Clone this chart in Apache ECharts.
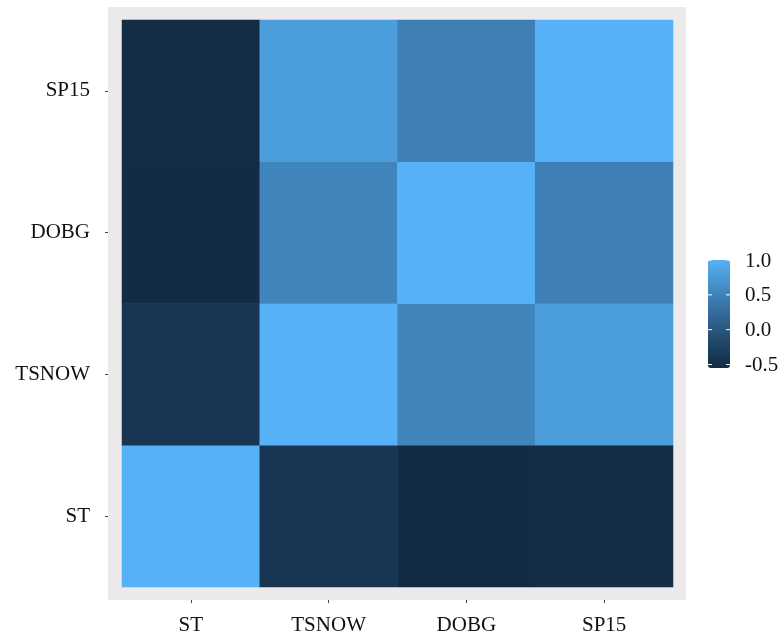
<!DOCTYPE html>
<html>
<head>
<meta charset="utf-8">
<script src="https://cdn.jsdelivr.net/npm/echarts@6/dist/echarts.min.js"></script>
<style>html,body{margin:0;padding:0;background:#fff;}#c{width:782px;height:639px;}</style>
</head>
<body>
<div id="c"></div>
<script>
// categories (x left->right, y bottom->top)
var categories = ['ST', 'TSNOW', 'DOBG', 'SP15'];
// correlation rows (row variable on y axis, values per x category)
var rowST    = [1.00, -0.42, -0.55, -0.53];
var rowTSNOW = [-0.42, 1.00, 0.52, 0.78];
var rowDOBG  = [-0.55, 0.52, 1.00, 0.47];
var rowSP15  = [-0.53, 0.78, 0.47, 1.00];
var rows = [rowST, rowTSNOW, rowDOBG, rowSP15];
// legend
var scaleMin = -0.55, scaleMax = 1.0;
var legendTicks = [-0.5, 0.0, 0.5, 1.0];
var legendLabels = ['-0.5', '0.0', '0.5', '1.0'];
var gradient = ['#132B43', '#22496C', '#336A9A', '#448DC6', '#56B1F7'];

var data = [];
rows.forEach(function (r, yi) {
  r.forEach(function (v, xi) { data.push([xi, yi, v]); });
});

var font = 'Liberation Serif';
var barLeft = 708, barTop = 260, barW = 22, barH = 108;
var graphics = [];
legendTicks.forEach(function (v, i) {
  var y = barTop + (scaleMax - v) / (scaleMax - scaleMin) * barH;
  graphics.push({ type: 'line', z: 100, shape: { x1: barLeft, y1: y, x2: barLeft + 4, y2: y }, style: { stroke: '#fff', lineWidth: 1 } });
  graphics.push({ type: 'line', z: 100, shape: { x1: barLeft + barW - 4, y1: y, x2: barLeft + barW, y2: y }, style: { stroke: '#fff', lineWidth: 1 } });
  graphics.push({ type: 'text', z: 100, x: 745, y: y + 1, style: { text: legendLabels[i], font: '21px "' + font + '"', fill: '#111', textVerticalAlign: 'middle', verticalAlign: 'middle' } });
});

var chart = echarts.init(document.getElementById('c'), null, { renderer: 'canvas' });
chart.setOption({
  animation: false,
  backgroundColor: '#fff',
  graphic: graphics,
  grid: [
    { left: 108, top: 7, width: 578, height: 593, show: true, backgroundColor: '#EBE9E9', borderWidth: 0, z: 0 },
    { left: 122, top: 20, width: 551, height: 567, z: 2 }
  ],
  xAxis: [
    { gridIndex: 0, type: 'value', show: false },
    { gridIndex: 1, type: 'category', data: categories, offset: 13,
      axisLine: { show: false }, axisTick: { show: true, length: 3, alignWithLabel: true, lineStyle: { color: '#444' } },
      axisLabel: { margin: 15, fontFamily: font, fontSize: 21, color: '#111' }, splitLine: { show: false } }
  ],
  yAxis: [
    { gridIndex: 0, type: 'value', show: false },
    { gridIndex: 1, type: 'category', data: categories, offset: 14,
      axisLine: { show: false }, axisTick: { show: true, length: 3, alignWithLabel: true, lineStyle: { color: '#444' } },
      axisLabel: { margin: 18, fontFamily: font, fontSize: 21, color: '#111', padding: [0, 0, 4, 0] }, splitLine: { show: false } }
  ],
  visualMap: {
    type: 'continuous', min: scaleMin, max: scaleMax, calculable: false, realtime: false,
    left: barLeft, top: barTop, itemWidth: barW, itemHeight: barH, padding: 0,
    text: null, showLabel: false, hoverLink: false,
    inRange: { color: gradient }
  },
  series: [{
    type: 'heatmap', xAxisIndex: 1, yAxisIndex: 1, data: data,
    itemStyle: { borderWidth: 0 }, label: { show: false }
  }]
});
</script>
</body>
</html>
